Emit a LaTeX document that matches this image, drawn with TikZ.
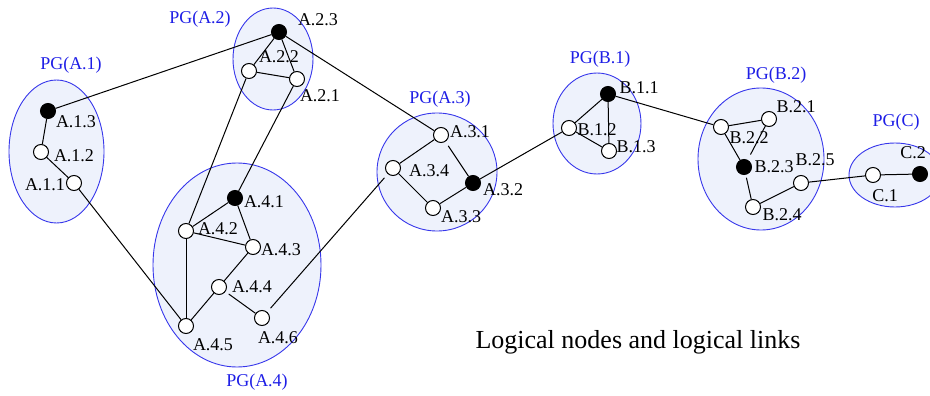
\documentclass[tikz,border=0pt]{standalone}
\usepackage{fontspec}
\setmainfont{Liberation Serif}
\definecolor{pgblue}{RGB}{55,55,235}
\definecolor{pgfill}{RGB}{238,242,252}
\definecolor{pgtext}{RGB}{30,30,230}
\begin{document}
\begin{tikzpicture}[x=1pt,y=-1pt,
  pg/.style={draw=pgblue, fill=pgfill, line width=0.9pt},
  vtx/.style={circle, draw, line width=1pt, fill=white, minimum size=15pt, inner sep=0pt},
  hub/.style={vtx, fill=black},
  lbl/.style={font=\fontsize{18}{18}\selectfont, inner sep=0pt},
  pglbl/.style={lbl, text=pgtext},
  link/.style={line width=1pt}]
\useasboundingbox (0,0) rectangle (930,396);
% groups
\path[pg] (56.5,151.5) ellipse [x radius=47.5pt, y radius=71.5pt];
\path[pg] (273,59) ellipse [x radius=40pt, y radius=51pt];
\path[pg] (237,265) ellipse [x radius=84pt, y radius=102pt];
\path[pg] (437,172) ellipse [x radius=60pt, y radius=59pt];
\path[pg] (597,123.5) ellipse [x radius=44pt, y radius=50.5pt];
\path[pg] (761,159) ellipse [x radius=63pt, y radius=71pt];
\path[pg] (895,175) ellipse [x radius=46pt, y radius=32pt];
% group labels
\node[pglbl] (pgA1) at (71,65) {PG(A.1)};
\node[pglbl] (pgA2) at (200,19) {PG(A.2)};
\node[pglbl] (pgA3) at (440,99) {PG(A.3)};
\node[pglbl] (pgA4) at (257,382) {PG(A.4)};
\node[pglbl] (pgB1) at (600,59) {PG(B.1)};
\node[pglbl] (pgB2) at (776,75) {PG(B.2)};
\node[pglbl] (pgC) at (896,122) {PG(C)};
% vertices
\node[hub] (A13) at (48,111) {};
\node[vtx] (A12) at (41,152) {};
\node[vtx] (A11) at (74,183) {};
\node[hub] (A23) at (279,32) {};
\node[vtx] (A22) at (249,71) {};
\node[vtx] (A21) at (297,79) {};
\node[hub] (A41) at (235,198) {};
\node[vtx] (A42) at (186,231) {};
\node[vtx] (A43) at (253,247) {};
\node[vtx] (A44) at (219,287) {};
\node[vtx] (A45) at (186,326) {};
\node[vtx] (A46) at (262,318) {};
\node[vtx] (A31) at (441,135) {};
\node[vtx] (A34) at (393,168) {};
\node[hub] (A32) at (473,183) {};
\node[vtx] (A33) at (433,208) {};
\node[hub] (B11) at (608,94) {};
\node[vtx] (B12) at (569,128) {};
\node[vtx] (B13) at (609,151) {};
\node[vtx] (B21) at (769,119) {};
\node[vtx] (B22) at (721,127) {};
\node[hub] (B23) at (744,167) {};
\node[vtx] (B24) at (753,207) {};
\node[vtx] (B25) at (801,183) {};
\node[vtx] (C1) at (873,175) {};
\node[hub] (C2) at (920,174) {};
% vertex labels
\node[lbl] (lA13) at (76,122) {A.1.3};
\node[lbl] (lA12) at (74,156) {A.1.2};
\node[lbl] (lA11) at (45,185) {A.1.1};
\node[lbl] (lA23) at (318,20) {A.2.3};
\node[lbl] (lA22) at (279,57) {A.2.2};
\node[lbl] (lA21) at (320,96) {A.2.1};
\node[lbl] (lA41) at (264,202) {A.4.1};
\node[lbl] (lA42) at (218,229) {A.4.2};
\node[lbl] (lA43) at (281,250) {A.4.3};
\node[lbl] (lA44) at (252,287) {A.4.4};
\node[lbl] (lA45) at (213,345) {A.4.5};
\node[lbl] (lA46) at (278,338) {A.4.6};
\node[lbl] (lA31) at (470,132) {A.3.1};
\node[lbl] (lA34) at (429,171) {A.3.4};
\node[lbl] (lA32) at (503,190) {A.3.2};
\node[lbl] (lA33) at (461,217) {A.3.3};
\node[lbl] (lB11) at (639,88) {B.1.1};
\node[lbl] (lB12) at (597,130) {B.1.2};
\node[lbl] (lB13) at (636,147) {B.1.3};
\node[lbl] (lB21) at (796,107) {B.2.1};
\node[lbl] (lB22) at (749,138) {B.2.2};
\node[lbl] (lB23) at (774,167) {B.2.3};
\node[lbl] (lB25) at (815,160) {B.2.5};
\node[lbl] (lB24) at (782,215) {B.2.4};
\node[lbl] (lC1) at (885,196) {C.1};
\node[lbl] (lC2) at (913,153) {C.2};
% caption
\node[font=\fontsize{26}{26}\selectfont, inner sep=0pt] (cap) at (638,342) {Logical nodes and logical links};
% links
\draw[link] (A13) -- (A12);
\draw[link] (A12) -- (A11);
\draw[link] (A11) -- (A45);
\draw[link] (A13) -- (A23);
\draw[link] (A23) -- (A22);
\draw[link] (A23) -- (A21);
\draw[link] (A22) -- (A21);
\draw[link] (A22) -- (A42);
\draw[link] (A21) -- (A41);
\draw[link] (A41) -- (A42);
\draw[link] (A41) -- (A43);
\draw[link] (A42) -- (A43);
\draw[link] (A42) -- (A45);
\draw[link] (A43) -- (A44);
\draw[link] (A44) -- (A45);
\draw[link, shorten <=4pt] (A44) -- (A46);
\draw[link, shorten <=5pt, shorten >=5pt] (A46) -- (A34);
\draw[link] (A23) -- (A31);
\draw[link] (A31) -- (A34);
\draw[link, shorten <=5pt] (A31) -- (A32);
\draw[link] (A34) -- (A33);
\draw[link] (A33) -- (A32);
\draw[link] (A32) -- (B12);
\draw[link] (B11) -- (B12);
\draw[link] (B11) -- (B13);
\draw[link] (B12) -- (B13);
\draw[link] (B11) -- (B22);
\draw[link] (B22) -- (B21);
\draw[link] (B22) -- (B23);
\draw[link, shorten >=6pt] (B21) -- (B23);
\draw[link, shorten <=3pt] (B23) -- (B24);
\draw[link] (B24) -- (B25);
\draw[link] (B25) -- (C1);
\draw[link] (C1) -- (C2);
\end{tikzpicture}
\end{document}
